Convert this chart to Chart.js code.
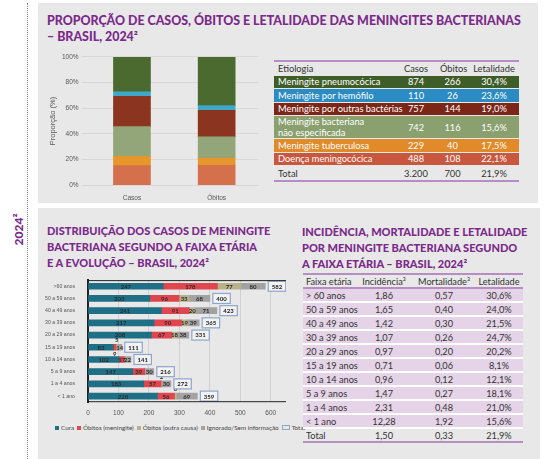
<!DOCTYPE html>
<html>
<head>
<meta charset="utf-8">
<script src="https://cdn.jsdelivr.net/npm/chart.js@4"></script>
<style>
  body { margin: 0; width: 549px; height: 459px; background: #fff; font-family: Lato, "Open Sans", sans-serif; position: relative; overflow: hidden; }
  .panel { position: absolute; background: #e8e8e8; }
  .title { position: absolute; color: #7b2a8b; font-weight: 900; line-height: 16px; white-space: nowrap; }
  .vline { position: absolute; left: 27px; top: 3px; height: 456px; border-left: 1px dotted #888; }
  .year { position: absolute; left: 3px; top: 222px; transform: rotate(-90deg); color: #7b2a8b; font-weight: 900; font-size: 12px; }
  table { position: absolute; border-collapse: collapse; color: #333; table-layout: fixed; white-space: nowrap; }
  #tab1 { left: 274px; top: 60px; width: 245px; font-size: 9.3px; border-top: 2px solid #b98cc4; border-bottom: 2px solid #b98cc4; }
  #tab1 td { padding: 0 4px; height: 12.5px; line-height: 11px; border-bottom: 1px solid #e8e8e8; }
  #tab1 tr.col td { color: #fff; }
  #tab2 { left: 303px; top: 273px; width: 220px; font-size: 9.2px; border-top: 2px solid #b98cc4; border-bottom: 2px solid #b98cc4; }
  #tab2 td { padding: 0 3px; height: 12px; line-height: 11px; border-bottom: 2px solid #fff; }
  #tab2 tr.row td { background: #e5d3e7; }
  #tab2 tr.head td { border-bottom: 2px solid #b98cc4; }
  #tab2 tr.tot td { border-bottom: none; }
  .c { text-align: center; }
  #legenda { position: absolute; left: 55px; top: 424px; font-size: 6.3px; color: #444; white-space: nowrap; }
  #legenda span { display: inline-block; margin-right: 3px; }
  #legenda i { display: inline-block; width: 4px; height: 4px; margin-right: 2px; vertical-align: 0; }
</style>
</head>
<body>
<div class="vline"></div>
<div class="year">2024²</div>

<div class="panel" style="left:38px; top:3px; width:500px; height:200px;"></div>
<div class="title" style="left:47px; top:13px; font-size:12.4px;">PROPORÇÃO DE CASOS, ÓBITOS E LETALIDADE DAS MENINGITES BACTERIANAS<br>– BRASIL, 2024²</div>
<div style="position:absolute; left:40px; top:50px; width:225px; height:153px;"><canvas id="topChart"></canvas></div>
<table id="tab1"></table>

<div class="panel" style="left:38px; top:208px; width:502px; height:251px;"></div>
<div class="title" style="left:47px; top:223px; font-size:11px;">DISTRIBUIÇÃO DOS CASOS DE MENINGITE<br>BACTERIANA SEGUNDO A FAIXA ETÁRIA<br>E A EVOLUÇÃO – BRASIL, 2024²</div>
<div style="position:absolute; left:40px; top:272px; width:246px; height:152px;"><canvas id="ageChart"></canvas></div>
<div id="legenda"></div>
<div class="title" style="left:302px; top:224px; font-size:11px;">INCIDÊNCIA, MORTALIDADE E LETALIDADE<br>POR MENINGITE BACTERIANA SEGUNDO<br>A FAIXA ETÁRIA – BRASIL, 2024²</div>
<table id="tab2"></table>

<script>
// etiologias (ordem da tabela)
const etiologias = ['Meningite pneumocócica', 'Meningite por hemófilo', 'Meningite por outras bactérias', 'Meningite bacteriana não especificada', 'Meningite tuberculosa', 'Doença meningocócica']
const casos = [874, 110, 757, 742, 229, 488]
const obitos = [266, 26, 144, 116, 40, 108]
const letalidade = ['30,4%', '23,6%', '19,0%', '15,6%', '17,5%', '22,1%']
const totalEtio = ['3.200', '700', '21,9%']
const coresBarra = ['#4b6a2f', '#3fa8c9', '#8b3520', '#93a67a', '#e6962a', '#d5704d']
const coresTabela = ['#3f5d28', '#2b8bc3', '#7b2617', '#8aa06e', '#e08a2a', '#c9573d']
const colunasProp = ['Casos', 'Óbitos']
const ticksProp = [0, 20, 40, 60, 80, 100]

// faixa etária x evolução
const faixas = ['>60 anos', '50 a 59 anos', '40 a 49 anos', '30 a 39 anos', '20 a 29 anos', '15 a 19 anos', '10 a 14 anos', '5 a 9 anos', '1 a 4 anos', '< 1 ano']
const cura = [247, 203, 241, 217, 208, 83, 102, 147, 183, 228]
const obitosMen = [178, 96, 91, 90, 67, 9, 17, 39, 57, 56]
const obitosOutra = [77, 33, 20, 19, 18, 5, 0, 0, 2, 6]
const ignorado = [80, 68, 71, 39, 38, 14, 22, 30, 30, 69]
const totalFaixa = [582, 400, 423, 365, 331, 111, 141, 216, 272, 359]
const ticksFaixa = [0, 100, 200, 300, 400, 500, 600]

// tabela de incidência
const faixasTab = ['> 60 anos', '50 a 59 anos', '40 a 49 anos', '30 a 39 anos', '20 a 29 anos', '15 a 19 anos', '10 a 14 anos', '5 a 9 anos', '1 a 4 anos', '< 1 ano']
const incidencia = ['1,86', '1,65', '1,42', '1,07', '0,97', '0,71', '0,96', '1,47', '2,31', '12,28']
const mortalidade = ['0,57', '0,40', '0,30', '0,26', '0,20', '0,06', '0,12', '0,27', '0,48', '1,92']
const letalFaixa = ['30,6%', '24,0%', '21,5%', '24,7%', '20,2%', '8,1%', '12,1%', '18,1%', '21,0%', '15,6%']
const totalInc = ['1,50', '0,33', '21,9%']

// ---- tabela 1
let h = '<colgroup><col style="width:122px"><col style="width:40px"><col style="width:33px"><col style="width:50px"></colgroup>'
h += '<tr><td>Etiologia</td><td class="c">Casos</td><td class="c">Óbitos</td><td class="c">Letalidade</td></tr>'
etiologias.forEach((e, i) => {
    const nome = e === 'Meningite bacteriana não especificada' ? 'Meningite bacteriana<br>não especificada' : e
    h += `<tr class="col" style="background:${coresTabela[i]}"><td>${nome}</td><td class="c">${casos[i]}</td><td class="c">${obitos[i]}</td><td class="c">${letalidade[i]}</td></tr>`
})
h += `<tr><td style="height:14px">Total</td><td class="c">${totalEtio[0]}</td><td class="c">${totalEtio[1]}</td><td class="c">${totalEtio[2]}</td></tr>`
document.getElementById('tab1').innerHTML = h

// ---- tabela 2
h = '<colgroup><col style="width:52px"><col style="width:58px"><col style="width:62px"><col style="width:48px"></colgroup>'
h += '<tr class="head"><td>Faixa etária</td><td class="c">Incidência³</td><td class="c">Mortalidade³</td><td class="c">Letalidade</td></tr>'
faixasTab.forEach((f, i) => {
    h += `<tr class="row"><td>${f}</td><td class="c">${incidencia[i]}</td><td class="c">${mortalidade[i]}</td><td class="c">${letalFaixa[i]}</td></tr>`
})
h += `<tr class="tot"><td>Total</td><td class="c">${totalInc[0]}</td><td class="c">${totalInc[1]}</td><td class="c">${totalInc[2]}</td></tr>`
document.getElementById('tab2').innerHTML = h

// ---- grafico de proporcao
const somaCasos = casos.reduce((a, b) => a + b, 0)
const somaObitos = obitos.reduce((a, b) => a + b, 0)
const propDatasets = etiologias.map((e, i) => ({
    label: e,
    data: [casos[i] / somaCasos * 100, obitos[i] / somaObitos * 100],
    backgroundColor: coresBarra[i],
    barThickness: 37
})).reverse()

new Chart(document.getElementById('topChart'), {
    type: 'bar',
    data: { labels: colunasProp, datasets: propDatasets },
    options: {
        responsive: true,
        maintainAspectRatio: false,
        animation: false,
        layout: { padding: { left: 6, right: 6, top: 6, bottom: 0 } },
        plugins: { legend: { display: false }, tooltip: { enabled: false } },
        scales: {
            x: {
                stacked: true,
                grid: { display: false },
                border: { display: false },
                ticks: { color: '#555', font: { size: 6.5 }, padding: 1 }
            },
            y: {
                stacked: true,
                min: 0, max: 100,
                afterBuildTicks: s => { s.ticks = ticksProp.map(v => ({ value: v })) },
                grid: { color: '#d8d8d8' },
                border: { display: false },
                ticks: { color: '#555', font: { size: 6.5 }, callback: v => v + '%' },
                title: { display: true, text: 'Proporção (%)', color: '#555', font: { size: 7.5 }, padding: 2 }
            }
        }
    }
})

// ---- grafico faixa etaria
const labelPlugin = {
    id: 'rotulos',
    afterDatasetsDraw(chart) {
        const ctx = chart.ctx
        ctx.save()
        ctx.font = 'bold 6px Lato, sans-serif'
        ctx.textAlign = 'center'
        ctx.textBaseline = 'middle'
        chart.data.datasets.forEach((ds, i) => {
            const meta = chart.getDatasetMeta(i)
            if (ds.type === 'line') {
                meta.data.forEach((p, j) => {
                    const txt = String(ds.data[j])
                    const w = ctx.measureText(txt).width + 7
                    const x0 = p.x + 3
                    ctx.fillStyle = '#f3f3f3'
                    ctx.strokeStyle = '#8ea5cc'
                    ctx.lineWidth = 1.2
                    ctx.fillRect(x0, p.y - 5, w, 10)
                    ctx.strokeRect(x0, p.y - 5, w, 10)
                    ctx.fillStyle = '#222'
                    ctx.fillText(txt, x0 + w / 2, p.y + 0.5)
                })
                return
            }
            meta.data.forEach((bar, j) => {
                const v = ds.data[j]
                if (!v) return
                ctx.fillStyle = '#2a2a2a'
                const cx = (bar.x + bar.base) / 2
                if (v < 10) {
                    const dy = i === 1 ? 7 : -7
                    ctx.fillText(String(v), cx, bar.y + dy)
                } else {
                    ctx.fillText(String(v), cx, bar.y + 0.5)
                }
            })
        })
        ctx.restore()
    }
}

const framePlugin = {
    id: 'moldura',
    afterDraw(chart) {
        const a = chart.chartArea
        const ctx = chart.ctx
        ctx.save()
        ctx.strokeStyle = '#222'
        ctx.lineWidth = 1
        ctx.beginPath()
        ctx.moveTo(a.left, a.top + 0.5)
        ctx.lineTo(a.right, a.top + 0.5)
        ctx.moveTo(a.left, a.bottom - 0.5)
        ctx.lineTo(a.right, a.bottom - 0.5)
        ctx.stroke()
        ctx.restore()
    }
}

const barra = (label, data, cor) => ({ label, data, backgroundColor: cor, barThickness: 6, stack: 'a' })

const ageChart = new Chart(document.getElementById('ageChart'), {
    type: 'bar',
    data: {
        labels: faixas,
        datasets: [
            barra('Cura', cura, '#1f6f86'),
            barra('Óbitos (meningite)', obitosMen, '#e0464e'),
            barra('Óbitos (outra causa)', obitosOutra, '#b8b18b'),
            barra('Ignorado/Sem informação', ignorado, '#a2a2a2'),
            { type: 'line', label: 'Total', data: totalFaixa, showLine: false, pointRadius: 0,
              backgroundColor: 'rgba(0,0,0,0)', borderColor: '#8ea5cc', borderWidth: 1.2 }
        ]
    },
    options: {
        indexAxis: 'y',
        responsive: true,
        maintainAspectRatio: false,
        animation: false,
        layout: { padding: { left: 0, right: 0, top: 2, bottom: 0 } },
        plugins: { legend: { display: false }, tooltip: { enabled: false } },
        scales: {
            x: {
                stacked: true,
                min: 0, max: 650,
                afterBuildTicks: s => { s.ticks = ticksFaixa.map(v => ({ value: v })) },
                grid: { color: '#d0d0d0', drawTicks: false },
                border: { display: false },
                ticks: { color: '#555', font: { size: 6.5 }, padding: 7 }
            },
            y: {
                stacked: true,
                grid: { display: false },
                border: { display: true, color: '#222', width: 2 },
                ticks: { color: '#555', font: { size: 5.2 }, padding: 5 }
            }
        }
    },
    plugins: [labelPlugin, framePlugin]
})

// legenda em linha unica, a partir dos datasets
document.getElementById('legenda').innerHTML = ageChart.data.datasets.map(ds => {
    const box = ds.type === 'line'
        ? `<i style="border:1px solid ${ds.borderColor}; width:6px; height:3px"></i>`
        : `<i style="background:${ds.backgroundColor}"></i>`
    return `<span>${box}${ds.label}</span>`
}).join('')
</script>
</body>
</html>
